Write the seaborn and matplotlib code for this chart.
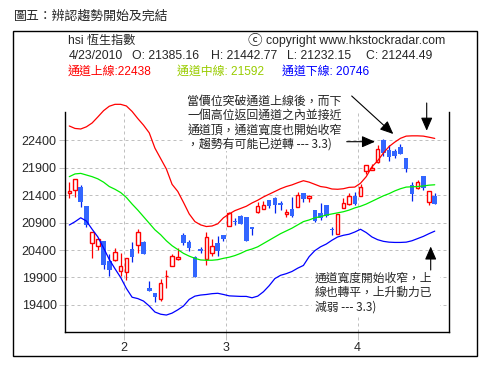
import numpy as np
import pandas as pd
import matplotlib
matplotlib.use("Agg")
import matplotlib.pyplot as plt
import seaborn as sns
from matplotlib.patches import Rectangle, FancyArrowPatch

# ---------------- data ----------------
title_text = "圖五：辨認趨勢開始及完結"
index_name = "hsi 恆生指數"
copyright_text = "copyright www.hkstockradar.com"
last_date = "4/23/2010"
month_labels = ["1", "2", "3", "4"]
month_counts = [10, 18, 23, 14]
y_ticks = [19400, 19900, 20400, 20900, 21400, 21900, 22400]

opens = [21437, 21497, 21557, 21205, 20524, 20475, 20558, 20207, 20216, 20018,
         20007, 20429, 20488, 20546, 19714, 19620, 19510, 19920, 20110, 20245,
         20675, 20548, 20268, 20420, 20232, 20352, 20535, 20675, 20845, 20940,
         21022, 21010, 20830, 21101, 21157, 21314, 21356, 21265, 21060, 21145,
         21192, 21447, 21356, 21132, 21071, 21223, 20790, 20688, 21163, 21240,
         21390, 21393, 21843, 21862, 22009, 22409, 22221, 22203, 22282, 22086,
         21588, 21539, 21750, 21272, 21385.16]
highs = [21648, 21692, 21589, 21205, 20730, 20597, 20558, 20330, 20444, 20338,
         20260, 20550, 20782, 20570, 19836, 19620, 19870, 20037, 20330, 20433,
         20706, 20584, 20290, 20451, 20736, 20597, 20657, 20675, 21100, 20990,
         21040, 21010, 20830, 21283, 21301, 21314, 21374, 21290, 21145, 21374,
         21466, 21447, 21400, 21132, 21254, 21223, 20816, 21059, 21345, 21440,
         21460, 21600, 21953, 21965, 22312, 22420, 22312, 22251, 22343, 22086,
         21637, 21681, 21750, 21478, 21442.77]
lows = [21345, 21374, 21191, 20827, 20259, 20400, 20047, 19923, 20200, 19923,
        19863, 20185, 20338, 20335, 19659, 19460, 19470, 19703, 20110, 20219,
        20493, 20389, 19904, 20342, 20134, 20292, 20292, 20570, 20845, 20860,
        20880, 20571, 20675, 21071, 21157, 21163, 21071, 21130, 21000, 21010,
        21192, 21283, 21283, 20918, 20949, 21000, 20675, 20688, 21163, 21220,
        21230, 21393, 21783, 21862, 21997, 22122, 22020, 22081, 22150, 21820,
        21296, 21515, 21497, 21223, 21232.15]
closes = [21478, 21692, 21283, 20858, 20730, 20597, 20120, 20030, 20362, 20109,
          20250, 20265, 20725, 20335, 19659, 19550, 19800, 19935, 20292, 20265,
          20535, 20433, 19904, 20378, 20633, 20475, 20389, 20602, 21072, 20905,
          20880, 20571, 20780, 21205, 21223, 21205, 21223, 21217, 21100, 21022,
          21405, 21327, 21387, 20936, 20980, 21022, 20775, 21059, 21265, 21390,
          21240, 21557, 21953, 21904, 22240, 22166, 22099, 22117, 22160, 21880,
          21418, 21637, 21528, 21478, 21244.49]

upper = [22665, 22620, 22610, 22650, 22720, 22830, 22944, 23025, 23060, 23060,
         23030, 22930, 22800, 22680, 22540, 22260, 22070, 21880, 21600, 21470,
         21270, 21060, 20920, 20860, 20830, 20840, 20880, 20990, 21060, 21120,
         21160, 21200, 21260, 21310, 21370, 21420, 21470, 21520, 21560, 21590,
         21630, 21666, 21640, 21600, 21560, 21545, 21515, 21510, 21520, 21545,
         21550, 21620, 21740, 21920, 22030, 22170, 22290, 22370, 22440, 22480,
         22485, 22485, 22480, 22460, 22438]
middle = [21740, 21790, 21800, 21770, 21740, 21700, 21640, 21560, 21510, 21450,
          21360, 21240, 21130, 21010, 20890, 20770, 20680, 20570, 20480, 20410,
          20340, 20290, 20250, 20220, 20215, 20215, 20225, 20250, 20270, 20300,
          20340, 20390, 20420, 20460, 20520, 20580, 20640, 20700, 20750, 20800,
          20860, 20920, 20950, 20990, 21010, 21040, 21060, 21080, 21100, 21130,
          21170, 21200, 21240, 21290, 21340, 21390, 21430, 21480, 21520, 21550,
          21555, 21560, 21570, 21585, 21592]
lower = [20858, 20918, 20990, 20930, 20780, 20640, 20440, 20230, 20060, 19900,
         19700, 19540, 19515, 19470, 19380, 19270, 19230, 19215, 19250, 19310,
         19380, 19500, 19560, 19580, 19590, 19605, 19612, 19590, 19565, 19560,
         19555, 19555, 19530, 19560, 19640, 19750, 19880, 19940, 19970, 20010,
         20070, 20120, 20280, 20390, 20460, 20510, 20580, 20640, 20670, 20690,
         20730, 20780, 20720, 20640, 20590, 20560, 20545, 20540, 20540, 20545,
         20570, 20610, 20650, 20700, 20746]

annot_top = ["當價位突破通道上線後，而下",
             "一個高位返回通道之內並接近",
             "通道頂，通道寬度也開始收窄",
             "，趨勢有可能已逆轉 --- 3.3)"]
annot_bottom = ["通道寬度開始收窄，上",
                "線也轉平，上升動力已",
                "減弱 --- 3.3)"]

# ---------------- styling ----------------
sns.set_theme(style="white")
LATIN = ["Liberation Sans", "Noto Sans CJK TC", "DejaVu Sans"]
CJK = ["Noto Sans CJK TC", "Liberation Sans", "DejaVu Sans"]
plt.rcParams["font.family"] = LATIN

RED = "#ff0000"
GREEN = "#00ee00"
BLUE_LINE = "#0000ff"
BLUE_BODY = "#3366ff"
BLUE_WICK = "#0022ee"
LIME_TXT = "#99cc00"
GRID = "#c0c0c0"

W, H = 489, 372
fig = plt.figure(figsize=(W / 100, H / 100), dpi=100)
fig.patch.set_facecolor("white")

def fx(x):
    return x / W

def fy(y):
    return 1 - y / H

ax = fig.add_axes([fx(65.3), fy(332.3), (449.3 - 65.3) / W, (332.3 - 100) / H])
ax.set_facecolor("white")

n = len(closes)
idx = np.arange(n)
df = pd.DataFrame({"i": idx, "open": opens, "high": highs, "low": lows,
                   "close": closes, "upper": upper, "middle": middle, "lower": lower})

ylo, yhi = 18900, 23139
ax.set_xlim(-0.70, 66.55)
ax.set_ylim(ylo, yhi)
spine_top = 22926

# grid
bounds = np.cumsum(month_counts)[:-1] - 0.5
for yt in y_ticks:
    ax.axhline(yt, color=GRID, lw=0.72, ls=(0, (3, 3)), zorder=0)
for b in bounds:
    ax.axvline(b, ymax=(spine_top - ylo) / (yhi - ylo), color=GRID, lw=0.72,
               ls=(0, (3, 3)), zorder=0)

# bands via seaborn
sns.lineplot(data=df, x="i", y="upper", color=RED, lw=0.9, ax=ax, zorder=4)
sns.lineplot(data=df, x="i", y="middle", color=GREEN, lw=0.9, ax=ax, zorder=4)
sns.lineplot(data=df, x="i", y="lower", color=BLUE_LINE, lw=0.9, ax=ax, zorder=4)

# candles
up = df["close"] >= df["open"]
body_lo = np.minimum(df["open"], df["close"])
body_h = np.maximum(np.abs(df["close"] - df["open"]), 15)
ax.vlines(df["i"][up], df["low"][up], df["high"][up], color=RED, lw=0.9, zorder=2)
ax.vlines(df["i"][~up], df["low"][~up], df["high"][~up], color=BLUE_WICK, lw=0.9, zorder=2)
ax.bar(df["i"][up], body_h[up], bottom=body_lo[up], width=0.62,
       facecolor="white", edgecolor=RED, linewidth=1.0, zorder=3)
ax.bar(df["i"][~up], body_h[~up], bottom=body_lo[~up], width=0.8,
       facecolor=BLUE_BODY, edgecolor="none", linewidth=0, zorder=3)

# spines/ticks
for s in ["left", "right", "bottom"]:
    ax.spines[s].set_visible(True)
    ax.spines[s].set_color("black")
    ax.spines[s].set_linewidth(1.0)
ax.spines["top"].set_visible(False)
ax.spines["left"].set_bounds(ylo, spine_top)
ax.spines["right"].set_bounds(ylo, spine_top)

ax.set_yticks(y_ticks)
ax.set_yticklabels([str(v) for v in y_ticks], fontsize=9, family=LATIN)
ax.set_xticks(bounds)
ax.set_xticklabels(month_labels[1:], fontsize=9, family=LATIN)
ax.tick_params(axis="y", left=True, length=4.3, width=0.72, color=GRID, pad=1.9)
ax.tick_params(axis="x", bottom=True, length=5.8, width=0.72, color=GRID, pad=1.5)
ax.set_xlabel("")
ax.set_ylabel("")
ax.grid(False)

# ---------------- figure-level text ----------------
def ptext(x, y, s, **kw):
    kw.setdefault("va", "center")
    kw.setdefault("ha", "left")
    kw.setdefault("zorder", 5)
    return fig.text(fx(x), fy(y), s, **kw)

fig.add_artist(Rectangle((fx(12.7), fy(356)), (476.7 - 12.7) / W, (356 - 31) / H,
                         transform=fig.transFigure, fill=False, edgecolor="black",
                         lw=1.0, zorder=6))

ptext(14, 16, title_text, fontsize=9.3, family=CJK)
ptext(68.3, 41, index_name, fontsize=8.7, family=LATIN)
ptext(247.0, 41.5, "ⓒ", fontsize=10.5,
      family=["Noto Sans CJK TC", "Noto Sans CJK JP", "Noto Sans", "DejaVu Sans"])
ptext(266, 41, copyright_text, fontsize=8.8, family=LATIN)

ptext(68.7, 56, last_date, fontsize=8.8, family=LATIN)
ptext(131.7, 56, f"O: {opens[-1]:.2f}", fontsize=8.8, family=LATIN)
ptext(210.7, 56, f"H: {highs[-1]:.2f}", fontsize=8.8, family=LATIN)
ptext(287.3, 56, f"L: {lows[-1]:.2f}", fontsize=8.8, family=LATIN)
ptext(365.7, 56, f"C: {closes[-1]:.2f}", fontsize=8.8, family=LATIN)

ptext(67.7, 72, f"通道上線:{upper[-1]}", fontsize=8.6, family=LATIN, color=RED)
ptext(176.7, 72, f"通道中線: {middle[-1]}", fontsize=8.6, family=LATIN, color=LIME_TXT)
ptext(282.0, 72, f"通道下線: {lower[-1]}", fontsize=8.6, family=LATIN, color=BLUE_LINE)

# annotation backgrounds
fig.add_artist(Rectangle((fx(185), fy(151)), (345 - 185) / W, (151 - 94) / H,
                         transform=fig.transFigure, facecolor="white",
                         edgecolor="none", zorder=1))
fig.add_artist(Rectangle((fx(312), fy(315)), (440 - 312) / W, (315 - 270) / H,
                         transform=fig.transFigure, facecolor="white",
                         edgecolor="none", zorder=1))

for s, yy in zip(annot_top, [101.7, 115.7, 130.0, 144.2]):
    ptext(187.3, yy, s, fontsize=8.6, family=CJK)
for s, yy in zip(annot_bottom, [278.5, 292.5, 307.0]):
    ptext(315.0, yy, s, fontsize=8.5, family=CJK)

# arrows
def arrow(x0, y0, x1, y1):
    a = FancyArrowPatch((fx(x0), fy(y0)), (fx(x1), fy(y1)),
                        transform=fig.transFigure,
                        arrowstyle="-|>,head_length=0.8,head_width=0.35",
                        mutation_scale=10, color="black", lw=0.8,
                        shrinkA=0, shrinkB=0, zorder=6)
    fig.add_artist(a)

arrow(351.7, 96, 393.3, 134)
arrow(346.7, 141.7, 375, 141.7)
arrow(426.7, 103, 426.7, 130.7)
arrow(430.7, 270, 430.7, 246.5)

fig.savefig("out.png", dpi=100, facecolor="white")
